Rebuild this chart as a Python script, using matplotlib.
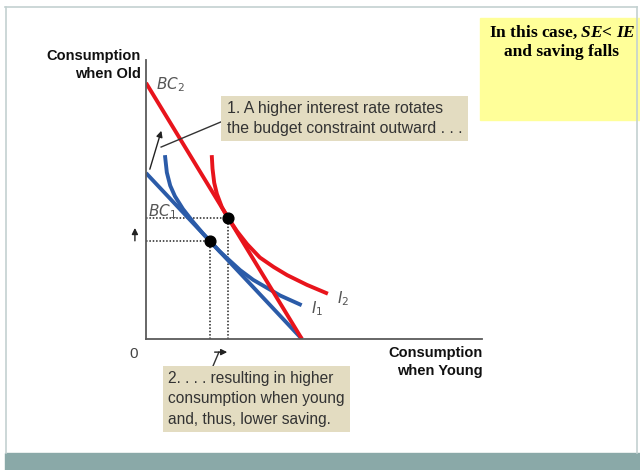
import matplotlib
matplotlib.use('Agg')
import matplotlib.pyplot as plt
import matplotlib.patches as mpatches
from matplotlib.lines import Line2D

plt.rcParams['mathtext.it'] = 'Liberation Serif:italic:bold'
plt.rcParams['mathtext.rm'] = 'Liberation Serif:bold'

# budget constraints (intercepts on the two axes)
bc1_y = [5.95, 0.0]
bc1_x = [0.0, 4.64]
bc2_y = [9.18, 0.0]
bc2_x = [0.0, 4.64]

# indifference curves
i1_x = [0.57, 0.62, 0.72, 0.86, 1.10, 1.40, 1.70, 1.90, 2.20, 2.80, 3.19, 3.99, 4.58]
i1_y = [6.52, 5.97, 5.50, 5.12, 4.66, 4.20, 3.775, 3.51, 3.13, 2.47, 2.12, 1.56, 1.24]
i2_x = [1.96, 1.98, 2.03, 2.11, 2.26, 2.44, 2.71, 3.01, 3.39, 3.80, 4.20, 4.79, 5.36]
i2_y = [6.52, 6.10, 5.60, 5.20, 4.72, 4.35, 3.86, 3.40, 2.92, 2.58, 2.29, 1.94, 1.65]

# optimum points (on BC1 / BC2)
opt_x = [1.90, 2.44]
opt_y = [3.51, 4.35]

RED = '#e8141c'
BLUE = '#2b5ba8'
TAN = '#e3dcc1'
W, H = 640, 470


def fx(px):
    return px / W


def fy(py):
    return 1 - py / H


fig = plt.figure(figsize=(6.4, 4.7), dpi=100)

# slide frame
frame = '#c3d1d1'
fig.add_artist(Line2D([fx(5.5), fx(5.5)], [fy(7), fy(453)], color=frame, lw=1.2))
fig.add_artist(Line2D([fx(5), fx(637)], [fy(7), fy(7)], color=frame, lw=1.2))
fig.add_artist(Line2D([fx(637), fx(637)], [fy(7), fy(453)], color=frame, lw=1.2))
fig.add_artist(mpatches.Rectangle((fx(5), 0), 1, 17 / H, color='#8aa9a8',
                                  transform=fig.transFigure))
fig.add_artist(mpatches.Rectangle((fx(480), fy(120)), 160 / W, 102 / H,
                                  color='#ffff99', transform=fig.transFigure))

ax = fig.add_axes([fx(146), fy(339), 336 / W, 279 / H])
ax.set_xlim(0, 10)
ax.set_ylim(0, 10)
for s in ['top', 'right']:
    ax.spines[s].set_visible(False)
for s in ['left', 'bottom']:
    ax.spines[s].set_color('#5a5a5a')
    ax.spines[s].set_linewidth(1.3)
ax.set_xticks([])
ax.set_yticks([])
ax.patch.set_alpha(0)

# dotted guide lines
for x, y in zip(opt_x, opt_y):
    ax.plot([0, x], [y, y], ls=(0, (1, 1.2)), color='#222222', lw=1.1)
    ax.plot([x, x], [0, y], ls=(0, (1, 1.2)), color='#222222', lw=1.1)

curve = dict(lw=2.8, solid_joinstyle='round')
ax.plot(bc1_x, bc1_y, color=BLUE, solid_capstyle='butt', **curve)
ax.plot(i1_x, i1_y, color=BLUE, **curve)
ax.plot(bc2_x, bc2_y, color=RED, solid_capstyle='butt', **curve)
ax.plot(i2_x, i2_y, color=RED, **curve)
ax.scatter(opt_x, opt_y, s=60, color='black', zorder=5)

lab = dict(color='#555555', fontsize=11, math_fontfamily='dejavusans')
ax.text(0.30, 9.1, r'$BC_2$', ha='left', va='center', **lab)
ax.text(0.06, 4.55, r'$BC_1$', ha='left', va='center', **lab)
ax.text(4.92, 1.08, r'$I_1$', ha='left', va='center', **lab)
ax.text(5.68, 1.45, r'$I_2$', ha='left', va='center', **lab)

# small arrows
ax.annotate('', xy=(0.48, 7.56), xytext=(0.09, 5.99), annotation_clip=False,
            arrowprops=dict(arrowstyle='-|>', color='#222222', lw=1, mutation_scale=9))
ax.plot([2.23, 0.45], [7.78, 6.88], color='#333333', lw=1)
ax.annotate('', xy=(-0.33, 4.08), xytext=(-0.33, 3.42), annotation_clip=False,
            arrowprops=dict(arrowstyle='-|>', color='#222222', lw=1, mutation_scale=9))
ax.annotate('', xy=(2.50, -0.47), xytext=(1.96, -0.47), annotation_clip=False,
            arrowprops=dict(arrowstyle='-|>', color='#222222', lw=1, mutation_scale=9))
ax.plot([2.17, 1.92], [-0.47, -1.18], color='#333333', lw=1, clip_on=False)

# axis labels
fig.text(fx(141), fy(65), 'Consumption\nwhen Old', ha='right', va='center',
         fontsize=10.5, fontweight='bold', family='Liberation Sans',
         linespacing=1.3, color='#111111')
fig.text(fx(483), fy(362), 'Consumption\nwhen Young', ha='right', va='center',
         fontsize=10.5, fontweight='bold', family='Liberation Sans',
         linespacing=1.3, color='#111111')
fig.text(fx(134), fy(354), '0', ha='center', va='center', fontsize=11,
         family='Liberation Sans', color='#444444')

# annotation boxes
box = dict(boxstyle='square,pad=0.35', facecolor=TAN, edgecolor='none')
fig.text(fx(227), fy(118.5), '1. A higher interest rate rotates\nthe budget constraint outward . . .',
         ha='left', va='center', fontsize=11.4, family='Liberation Sans',
         color='#333333', linespacing=1.4, bbox=box)
fig.text(fx(168), fy(399), '2. . . . resulting in higher\nconsumption when young\nand, thus, lower saving.',
         ha='left', va='center', fontsize=11.2, family='Liberation Sans',
         color='#333333', linespacing=1.42, bbox=box)

# yellow note
fig.text(fx(562), fy(42), 'In this case, $\\mathit{SE}$< $\\mathit{IE}$\nand saving falls',
         ha='center', va='center', fontsize=12.5, fontweight='bold',
         family='Liberation Serif', math_fontfamily='custom', linespacing=1.25)

fig.savefig('out.png', dpi=100)
